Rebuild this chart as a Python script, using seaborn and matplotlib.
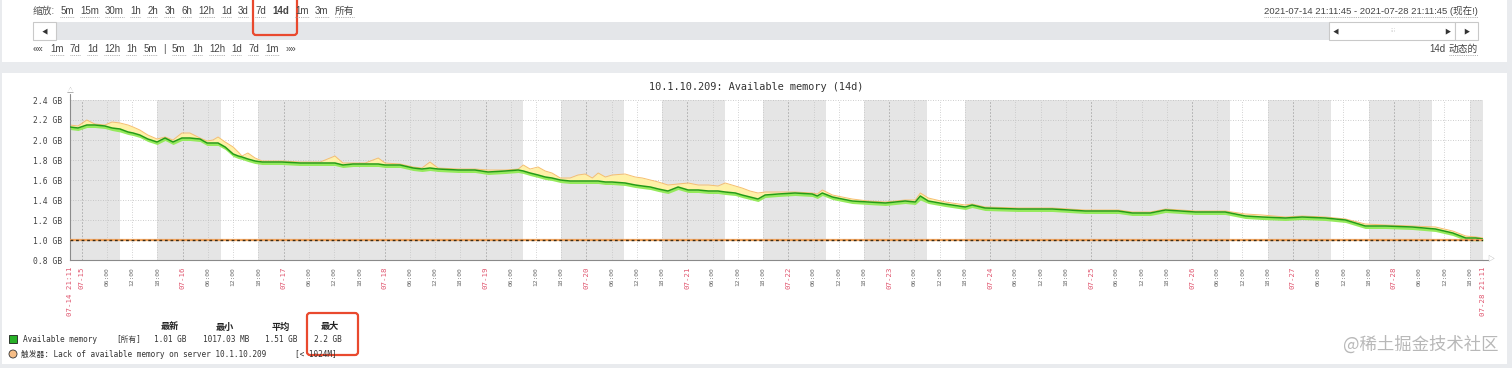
import numpy as np
import pandas as pd
import matplotlib
matplotlib.use("Agg")
import matplotlib.pyplot as plt
from matplotlib.patches import Rectangle, FancyBboxPatch, Circle
import seaborn as sns

# ---------------- data ----------------
START = "2021-07-14 21:11:45"
END = "2021-07-28 21:11:45"

hours_from_start = [0, 1.9, 4.0, 5.9, 8.3, 10.0, 11.9, 13.8, 15.0, 16.6,
                    18.5, 20.7, 22.6, 24.5, 26.6, 28.5, 30.9, 32.6, 34.0, 35.2,
                    36.9, 38.8, 40.0, 40.9, 42.3, 44.0, 45.7, 50.4, 54.7, 59.5,
                    63.0, 64.9, 67.3, 70.2, 73.3, 74.9, 78.5, 81.6, 83.7, 85.6,
                    87.5, 92.3, 96.3, 99.4, 103.5, 106.6, 107.8, 109.4, 111.3, 113.0,
                    114.6, 116.6, 118.9, 120.8, 122.5, 124.2, 125.6, 127.3, 128.9, 132.0,
                    134.4, 136.1, 138.0, 139.9, 142.2, 144.6, 147.0, 149.4, 151.8, 154.1,
                    155.8, 158.2, 159.8, 161.7, 163.6, 165.3, 168.4, 172.4, 176.5, 177.7,
                    178.9, 181.3, 183.6, 186.0, 189.8, 193.9, 198.6, 201.0, 202.2, 204.1,
                    208.1, 212.9, 214.5, 217.6, 225.5, 233.6, 241.4, 249.3, 252.6, 256.9,
                    260.5, 267.6, 274.7, 279.5, 283.5, 289.0, 293.0, 298.5, 303.3, 308.0,
                    312.8, 319.2, 324.7, 328.8, 331.9, 334.3, 336.0]

avg_gb = [2.13, 2.12, 2.15, 2.15, 2.14, 2.12, 2.11, 2.08, 2.07, 2.05,
          2.01, 1.98, 2.02, 1.98, 2.02, 2.02, 2.01, 1.97, 1.97, 1.97,
          1.93, 1.86, 1.84, 1.83, 1.81, 1.79, 1.78, 1.78, 1.77, 1.77,
          1.77, 1.75, 1.76, 1.76, 1.76, 1.75, 1.75, 1.72, 1.71, 1.72,
          1.71, 1.70, 1.70, 1.68, 1.69, 1.70, 1.69, 1.67, 1.65, 1.63,
          1.62, 1.60, 1.59, 1.59, 1.59, 1.59, 1.59, 1.58, 1.58, 1.57,
          1.55, 1.54, 1.53, 1.51, 1.49, 1.53, 1.50, 1.50, 1.49, 1.49,
          1.48, 1.47, 1.45, 1.43, 1.41, 1.45, 1.46, 1.47, 1.46, 1.44,
          1.47, 1.43, 1.41, 1.39, 1.38, 1.37, 1.39, 1.38, 1.44, 1.39,
          1.36, 1.33, 1.35, 1.32, 1.31, 1.31, 1.29, 1.29, 1.27, 1.27,
          1.30, 1.28, 1.28, 1.24, 1.23, 1.22, 1.23, 1.22, 1.20, 1.14,
          1.14, 1.13, 1.11, 1.07, 1.02, 1.02, 1.01]

max_gb = [2.15, 2.14, 2.20, 2.16, 2.15, 2.18, 2.17, 2.15, 2.13, 2.10,
          2.05, 2.01, 2.03, 2.00, 2.07, 2.07, 2.02, 1.99, 2.00, 2.03,
          1.98, 1.93, 1.88, 1.84, 1.87, 1.82, 1.79, 1.79, 1.78, 1.78,
          1.84, 1.77, 1.77, 1.77, 1.82, 1.77, 1.76, 1.73, 1.72, 1.78,
          1.72, 1.71, 1.71, 1.70, 1.70, 1.71, 1.75, 1.71, 1.73, 1.69,
          1.67, 1.62, 1.62, 1.65, 1.66, 1.62, 1.67, 1.63, 1.65, 1.66,
          1.63, 1.62, 1.60, 1.58, 1.55, 1.56, 1.57, 1.55, 1.55, 1.54,
          1.57, 1.54, 1.52, 1.49, 1.47, 1.48, 1.48, 1.48, 1.47, 1.46,
          1.50, 1.45, 1.43, 1.41, 1.39, 1.38, 1.40, 1.40, 1.47, 1.42,
          1.38, 1.35, 1.36, 1.33, 1.32, 1.32, 1.30, 1.30, 1.28, 1.28,
          1.31, 1.29, 1.29, 1.26, 1.25, 1.23, 1.24, 1.23, 1.21, 1.16,
          1.15, 1.14, 1.13, 1.09, 1.04, 1.03, 1.02]

min_gb = [2.105, 2.095, 2.125, 2.125, 2.115, 2.095, 2.080, 2.055, 2.045, 2.025,
          1.985, 1.955, 1.995, 1.955, 1.995, 1.995, 1.985, 1.945, 1.945, 1.945,
          1.905, 1.835, 1.815, 1.805, 1.785, 1.765, 1.755, 1.755, 1.745, 1.745,
          1.745, 1.725, 1.735, 1.735, 1.735, 1.725, 1.725, 1.695, 1.685, 1.695,
          1.685, 1.675, 1.675, 1.655, 1.665, 1.675, 1.665, 1.645, 1.625, 1.605,
          1.595, 1.575, 1.565, 1.565, 1.565, 1.565, 1.565, 1.555, 1.555, 1.545,
          1.525, 1.515, 1.505, 1.485, 1.465, 1.505, 1.475, 1.475, 1.465, 1.465,
          1.455, 1.445, 1.425, 1.405, 1.385, 1.425, 1.435, 1.445, 1.435, 1.415,
          1.445, 1.405, 1.385, 1.365, 1.355, 1.345, 1.365, 1.355, 1.400, 1.365,
          1.335, 1.305, 1.325, 1.295, 1.285, 1.285, 1.265, 1.265, 1.245, 1.245,
          1.275, 1.255, 1.255, 1.215, 1.205, 1.195, 1.205, 1.195, 1.175, 1.115,
          1.115, 1.105, 1.085, 1.045, 0.995, 0.993, 0.993]

y_ticks_gb = [0.8, 1.0, 1.2, 1.4, 1.6, 1.8, 2.0, 2.2, 2.4]
trigger_gb = 1.0

chart_title = "10.1.10.209: Available memory (14d)"
legend_headers = ["最新", "最小", "平均", "最大"]
legend_values = ["1.01 GB", "1017.03 MB", "1.51 GB", "2.2 GB"]
item_name = "Available memory"
item_scope = "[所有]"
trigger_text = "触发器: Lack of available memory on server 10.1.10.209"
trigger_cond = "[< 1024M]"

zoom_links = ["5m", "15m", "30m", "1h", "2h", "3h", "6h", "12h", "1d", "3d",
              "7d", "14d", "1m", "3m", "所有"]
nav_links = ["««", "1m", "7d", "1d", "12h", "1h", "5m", "|", "5m", "1h",
             "12h", "1d", "7d", "1m", "»»"]
period_text = "2021-07-14 21:11:45 - 2021-07-28 21:11:45 (现在!)"

# ---------------- style ----------------
sns.set_theme(style="white")
plt.rcParams['font.family'] = ['Liberation Sans', 'Noto Sans CJK SC', 'DejaVu Sans']
MONO = ['DejaVu Sans Mono', 'Noto Sans CJK SC']
SANS = ['Liberation Sans', 'Noto Sans CJK SC', 'DejaVu Sans']

W, H = 1512, 368
fig = plt.figure(figsize=(W / 100, H / 100), dpi=100)
fig.patch.set_facecolor('#e9ebee')

bg = fig.add_axes([0, 0, 1, 1], zorder=0)
bg.set_xlim(0, W); bg.set_ylim(H, 0); bg.axis('off')
bg.add_patch(Rectangle((2, 0), 1505, 62, fc='white', ec='none'))
bg.add_patch(Rectangle((2, 73), 1505, 291, fc='white', ec='none'))

# ---------------- main chart ----------------
x0, x1, ytop, ybot = 70, 1483, 100, 260
ax = fig.add_axes([x0 / W, (H - ybot) / H, (x1 - x0) / W, (ybot - ytop) / H], zorder=2)

t0 = pd.Timestamp(START)
t1 = pd.Timestamp(END)
df = pd.DataFrame({
    "time": t0 + pd.to_timedelta(hours_from_start, unit="h"),
    "avg": avg_gb, "max": max_gb, "min": min_gb,
})

ax.set_facecolor('#e5e5e5')
for day in pd.date_range("2021-07-14", "2021-07-28", freq="D"):
    if day.weekday() < 5:
        ax.axvspan(day + pd.Timedelta(hours=9), day + pd.Timedelta(hours=18),
                   color='white', lw=0, zorder=0.5)

six_h = pd.date_range("2021-07-15 00:00", "2021-07-28 18:00", freq="6h")
for t in six_h:
    if t.hour == 0:
        ax.axvline(t, color='#a8a8a8', lw=0.6, ls=(0, (2, 2)), zorder=1)
    else:
        ax.axvline(t, color='#c4c4c4', lw=0.6, ls=(0, (1, 2)), zorder=1)
for v in y_ticks_gb[1:]:
    ax.axhline(v, color='#bdbdbd', lw=0.6, ls=(0, (1, 2)), zorder=1)

ax.fill_between(df["time"], df["avg"], df["max"], color='#fff1a8', lw=0, zorder=2)
ax.plot(df["time"], df["max"], color='#f6bf6e', lw=0.7, zorder=2.2)
ax.fill_between(df["time"], df["min"], df["avg"], color='#95ea5c', lw=0, zorder=2.1)
sns.lineplot(data=df, x="time", y="avg", ax=ax, color='#249c16', lw=1.1,
             legend=False, zorder=3)

ax.axhline(trigger_gb, color='#f3a55e', lw=1.6, zorder=4)
ax.axhline(trigger_gb, color='#3b2a14', lw=1.0, ls=(0, (2, 2)), zorder=4.1)

ax.set_xlim(t0, t1)
ax.set_ylim(y_ticks_gb[0], y_ticks_gb[-1])
ax.set_xlabel(""); ax.set_ylabel("")
for s in ["top", "right"]:
    ax.spines[s].set_visible(False)
for s in ["left", "bottom"]:
    ax.spines[s].set_color('#8a8a8a'); ax.spines[s].set_linewidth(0.8)

ax.set_yticks(y_ticks_gb)
ax.set_yticklabels([f"{v:.1f} GB" for v in y_ticks_gb], fontfamily=MONO,
                   fontsize=5.8, color='#444444')
ax.tick_params(axis='y', length=0, pad=5.5)

xt = [t0] + list(six_h) + [t1]
labels, colors, sizes = [], [], []
for t in xt:
    if t == t0 or t == t1:
        labels.append(t.strftime("%m-%d %H:%M")); colors.append('#e0566f'); sizes.append(5.3)
    elif t.hour == 0:
        labels.append(t.strftime("%m-%d")); colors.append('#e0566f'); sizes.append(5.3)
    else:
        labels.append(t.strftime("%H:%M")); colors.append('#6a6a6a'); sizes.append(4.5)
ax.set_xticks(xt)
ax.set_xticklabels(labels, rotation=90, fontfamily=MONO)
for lab, c, s in zip(ax.get_xticklabels(), colors, sizes):
    lab.set_color(c); lab.set_fontsize(s)
ax.tick_params(axis='x', length=0, pad=5)

# ---------------- overlay (texts, controls) ----------------
fg = fig.add_axes([0, 0, 1, 1], zorder=10)
fg.set_xlim(0, W); fg.set_ylim(H, 0); fg.axis('off')
fg.patch.set_alpha(0)

# axis arrows
fg.plot([x0, x0], [ytop, 94], color='#8a8a8a', lw=0.8)
fg.text(x0, 95, "△", ha='center', va='bottom', fontsize=5, color='#999999', family=SANS)
fg.plot([x1, 1488], [ybot, ybot], color='#8a8a8a', lw=0.8)
fg.text(1487, ybot, "▷", ha='left', va='center', fontsize=5, color='#999999', family=SANS)

fg.text(756, 87, chart_title, ha='center', va='center', fontsize=7.4,
        family=MONO, color='#333333')

renderer = fig.canvas.get_renderer()

def underline(t, color='#9a9a9a'):
    bb = t.get_window_extent(renderer)
    y = H - bb.y0 + 1.2
    fg.plot([bb.x0, bb.x1], [y, y], color=color, lw=0.6, ls=(0, (1, 1.2)))

# top row: zoom links
t = fg.text(33, 11, "缩放:", ha='left', va='center', fontsize=7, color='#555555', family=SANS)
x = t.get_window_extent(renderer).x1 + 5
for lab in zoom_links:
    weight = 'bold' if lab == "14d" else 'normal'
    t = fg.text(x, 11, lab, ha='left', va='center', fontsize=7, color='#444444',
                family=SANS, fontweight=weight)
    if lab != "14d":
        underline(t)
    x = t.get_window_extent(renderer).x1 + 6.3

t = fg.text(1478, 11, period_text, ha='right', va='center', fontsize=6.8,
            color='#444444', family=SANS)
underline(t)

# scroll bar
fg.add_patch(Rectangle((33, 22), 1445, 18, fc='#e4e6e9', ec='none'))
fg.add_patch(Rectangle((33, 22), 23, 18, fc='white', ec='#c9c9c9', lw=0.8))
fg.text(44.5, 31, "◀", ha='center', va='center', fontsize=4.5, color='#333333', family=SANS)
fg.add_patch(Rectangle((1329, 22), 126, 18, fc='white', ec='#c9c9c9', lw=0.8))
fg.add_patch(Rectangle((1455, 22), 23, 18, fc='white', ec='#c9c9c9', lw=0.8))
fg.text(1336, 31, "◀", ha='center', va='center', fontsize=4.5, color='#333333', family=SANS)
fg.text(1393, 31, "⁝⁝⁝", ha='center', va='center', fontsize=4, color='#bbbbbb', family=['DejaVu Sans'])
fg.text(1447, 31, "▶", ha='center', va='center', fontsize=4.5, color='#333333', family=SANS)
fg.text(1466.5, 31, "▶", ha='center', va='center', fontsize=4.5, color='#333333', family=SANS)

# third row nav links
x = 33
for lab in nav_links:
    t = fg.text(x, 49, lab, ha='left', va='center', fontsize=7, color='#444444', family=SANS)
    if lab not in ("««", "»»", "|"):
        underline(t)
    x = t.get_window_extent(renderer).x1 + 6.3
t = fg.text(1478, 49, "动态的", ha='right', va='center', fontsize=7, color='#444444', family=SANS)
underline(t)
fg.text(1445, 49, "14d", ha='right', va='center', fontsize=7, color='#444444', family=SANS)

# legend
for lab, cx in zip(legend_headers, [170, 225, 281, 330]):
    fg.text(cx, 327, lab, ha='center', va='center', fontsize=6.6, color='#222222',
            family=MONO, fontweight='bold')
fg.add_patch(Rectangle((9, 335), 8, 8, fc='#27b027', ec='#1e1e1e', lw=0.6))
fg.text(23, 339.5, item_name, ha='left', va='center', fontsize=5.6, color='#333333', family=MONO)
fg.text(116, 339.5, item_scope, ha='left', va='center', fontsize=5.6, color='#333333', family=MONO)
for lab, lx in zip(legend_values, [154, 203, 265, 314]):
    fg.text(lx, 339.5, lab, ha='left', va='center', fontsize=5.6, color='#333333', family=MONO)
fg.add_patch(Circle((13, 354), 4, fc='#f6bd86', ec='#333333', lw=0.6))
fg.text(21, 354, trigger_text, ha='left', va='center', fontsize=5.6, color='#333333', family=MONO)
fg.text(295, 354, trigger_cond, ha='left', va='center', fontsize=5.6, color='#333333', family=MONO)

# highlight boxes
fg.add_patch(FancyBboxPatch((253, -8), 44, 43, boxstyle='round,pad=0,rounding_size=3',
                            fc='none', ec='#e9492e', lw=1.6))
fg.add_patch(FancyBboxPatch((307, 313), 51, 42, boxstyle='round,pad=0,rounding_size=3',
                            fc='none', ec='#e9492e', lw=1.6))

# watermark
fg.text(1498, 345, "@稀土掘金技术社区", ha='right', va='center', fontsize=12.5,
        color='#b8b8b8', family=['Noto Sans CJK SC'])

fig.savefig("out.png", dpi=100, facecolor=fig.get_facecolor())
